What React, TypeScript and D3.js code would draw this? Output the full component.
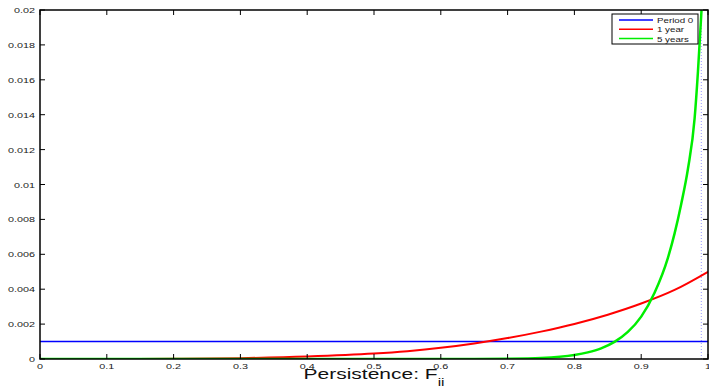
import * as d3 from 'd3';
import { useEffect, useRef } from 'react';

const xTicks = [0, 0.1, 0.2, 0.3, 0.4, 0.5, 0.6, 0.7, 0.8, 0.9, 1];
const yTicks = [0, 0.002, 0.004, 0.006, 0.008, 0.01, 0.012, 0.014, 0.016, 0.018, 0.02];

const seriesNames = ['Period 0', '1 year', '5 years'];
const seriesColors = ['#0000ff', '#ff0000', '#00ee00'];

const periodX = [0, 1];
const periodY = [0.001, 0.001];

const yearX = [0, 0.1, 0.2, 0.3, 0.4, 0.5, 0.55, 0.6, 0.65, 0.7, 0.75, 0.8, 0.85, 0.9, 0.95, 1];
const yearY = [0, 0.000002, 0.00001, 0.00005, 0.00014, 0.00031, 0.00045, 0.00064, 0.00089, 0.0012, 0.00157, 0.00201, 0.00254, 0.00318, 0.00396, 0.005];

const fiveX = [0, 0.5, 0.6, 0.65, 0.7, 0.75, 0.8, 0.82, 0.84, 0.86, 0.88, 0.9, 0.92, 0.94, 0.95, 0.96, 0.97, 0.98, 0.985, 0.99, 0.995];
const fiveY = [0, 0, 0.000001, 0.000004, 0.000016, 0.00006, 0.00023, 0.00038, 0.00061, 0.00098, 0.00155, 0.00243, 0.0038, 0.0058, 0.0072, 0.0089, 0.0109, 0.0138, 0.0165, 0.0198, 0.023];

const markerX = 0.99;

export default function App() {
  const w = 709;
  const h = 387;
  const svgRef = useRef<SVGSVGElement>(null);

  useEffect(() => {
    if (svgRef.current == null) {
      return;
    }
    const svg = d3.select(svgRef.current);
    svg.selectAll('*').remove();

    const left = 40;
    const right = 708;
    const top = 10;
    const bottom = 359;
    const stretch = 1.35;
    const font = 'Liberation Sans, Arial, sans-serif';

    const x = d3.scaleLinear().domain([0, 1]).range([left, right]);
    const y = d3.scaleLinear().domain([0, 0.02]).range([bottom, top]);

    svg
      .append('defs')
      .append('clipPath')
      .attr('id', 'plot-clip')
      .append('rect')
      .attr('x', left)
      .attr('y', top)
      .attr('width', right - left)
      .attr('height', bottom - top);

    // dotted marker line
    svg
      .append('line')
      .attr('x1', x(markerX))
      .attr('x2', x(markerX))
      .attr('y1', top)
      .attr('y2', bottom)
      .attr('stroke', '#9a9aff')
      .attr('stroke-width', 1)
      .attr('stroke-dasharray', '1,2');

    const line = d3
      .line<[number, number]>()
      .x((d) => x(d[0]))
      .y((d) => y(d[1]))
      .curve(d3.curveMonotoneX);

    const series: [number[], number[], number][] = [
      [periodX, periodY, 1.6],
      [yearX, yearY, 2],
      [fiveX, fiveY, 2.5],
    ];
    const plot = svg.append('g').attr('clip-path', 'url(#plot-clip)');
    series.forEach(([xs, ys, sw], i) => {
      plot
        .append('path')
        .datum(xs.map((v, j) => [v, ys[j]] as [number, number]))
        .attr('d', line)
        .attr('fill', 'none')
        .attr('stroke', seriesColors[i])
        .attr('stroke-width', sw);
    });

    // box and inward ticks
    const axes = svg.append('g').attr('stroke', '#000');
    axes
      .append('rect')
      .attr('x', left)
      .attr('y', top)
      .attr('width', right - left)
      .attr('height', bottom - top)
      .attr('fill', 'none')
      .attr('stroke-width', 1.5);
    for (const t of xTicks) {
      axes.append('line').attr('x1', x(t)).attr('x2', x(t)).attr('y1', bottom).attr('y2', bottom - 5).attr('stroke-width', 1);
      axes.append('line').attr('x1', x(t)).attr('x2', x(t)).attr('y1', top).attr('y2', top + 5).attr('stroke-width', 1);
    }
    for (const t of yTicks) {
      axes.append('line').attr('x1', left).attr('x2', left + 5).attr('y1', y(t)).attr('y2', y(t)).attr('stroke-width', 1);
      axes.append('line').attr('x1', right).attr('x2', right - 5).attr('y1', y(t)).attr('y2', y(t)).attr('stroke-width', 1);
    }

    const label = (tx: number, ty: number, text: string, anchor: string, size: number, sx = stretch) =>
      svg
        .append('text')
        .attr('transform', `translate(${tx},${ty}) scale(${sx},1)`)
        .attr('text-anchor', anchor)
        .attr('font-family', font)
        .attr('font-size', size)
        .attr('fill', '#1a1a1a')
        .text(text);

    for (const t of xTicks) {
      label(x(t), 369, d3.format('~g')(t), 'middle', 8);
    }
    for (const t of yTicks) {
      label(35, y(t) + 3, t === 0 ? '0' : d3.format('~g')(t), 'end', 8);
    }

    const xl = svg
      .append('text')
      .attr('transform', `translate(${(left + right) / 2},379) scale(1.4,1)`)
      .attr('text-anchor', 'middle')
      .attr('font-family', font)
      .attr('font-size', 15)
      .attr('fill', '#111');
    xl.append('tspan').text('Persistence: F');
    xl.append('tspan').attr('dy', 7).attr('font-size', 11).text('ii');

    // legend
    const lg = svg.append('g');
    lg.append('rect')
      .attr('x', 612)
      .attr('y', 14)
      .attr('width', 86)
      .attr('height', 30)
      .attr('fill', '#fff')
      .attr('stroke', '#000')
      .attr('stroke-width', 1);
    seriesNames.forEach((name, i) => {
      const ly = 20 + i * 9.3;
      lg.append('line')
        .attr('x1', 619)
        .attr('x2', 653)
        .attr('y1', ly)
        .attr('y2', ly)
        .attr('stroke', seriesColors[i])
        .attr('stroke-width', 1.5);
      label(657, ly + 3, name, 'start', 8, 1.22);
    });
  }, []);

  return (
    <svg
      ref={svgRef}
      width={w}
      height={h}
      style={{ position: 'absolute', left: 0, top: 0, background: '#fff' }}
    ></svg>
  );
}
